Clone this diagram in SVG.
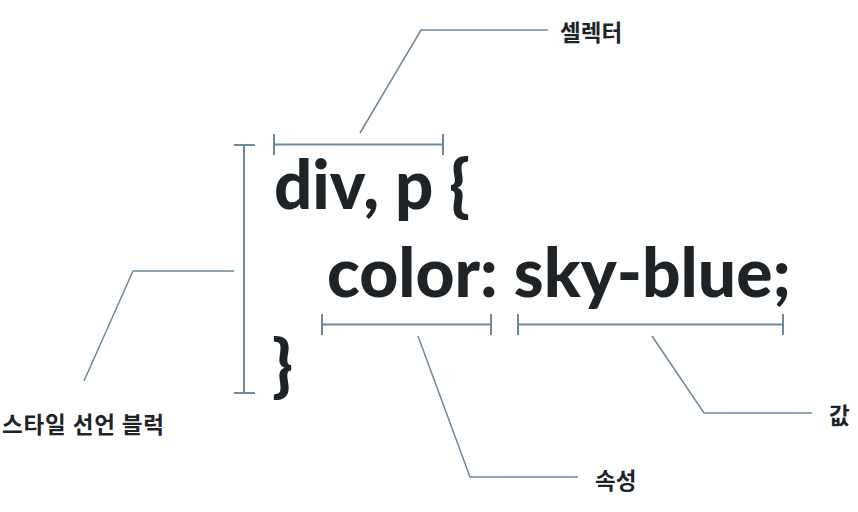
<svg xmlns="http://www.w3.org/2000/svg" width="858" height="512" viewBox="0 0 858 512">
<style>
.code{font-family:"Source Sans Pro","Lato","Noto Sans",sans-serif;font-weight:900;font-size:68px;fill:#1d2327}
.lbl{font-family:"Noto Sans CJK KR","Noto Sans",sans-serif;font-weight:700;font-size:22.5px;fill:#1d2327}
.br{stroke:#6e899a;stroke-width:2;fill:none}
.ld{stroke:#6e899a;stroke-width:1.5;fill:none}
</style>
<rect width="858" height="512" fill="#ffffff"/>
<g id="code">
<text class="code" x="274" y="209" textLength="196" lengthAdjust="spacingAndGlyphs">div, p {</text>
<text class="code" x="327" y="297" textLength="464" lengthAdjust="spacingAndGlyphs">color: sky-blue;</text>
<text class="code" x="272" y="389">}</text>
</g>
<g id="selector">
<path class="br" d="M274,144.5H443M274,134V155M443,134V155"/>
<text class="lbl" x="560" y="41">셀렉터</text>
</g>
<g id="block">
<path class="br" d="M244,145V393M234,145H255M234,393H255"/>
<text class="lbl" x="2" y="433" textLength="162">스타일 선언 블럭</text>
</g>
<g id="property">
<path class="br" d="M322,324.5H491M322,314V335M491,314V335"/>
<text class="lbl" x="595" y="489">속성</text>
</g>
<g id="value">
<path class="br" d="M518,324.5H783M518,314V335M783,314V335"/>
<text class="lbl" x="829" y="424">값</text>
</g>
<g id="connectors">
<polyline class="ld" points="360,133 421,30 548,30"/>
<polyline class="ld" points="234,271 133,271 84,381"/>
<polyline class="ld" points="418,336 470,477 578,477"/>
<polyline class="ld" points="652,336 704,413 812,413"/>
</g>
</svg>
